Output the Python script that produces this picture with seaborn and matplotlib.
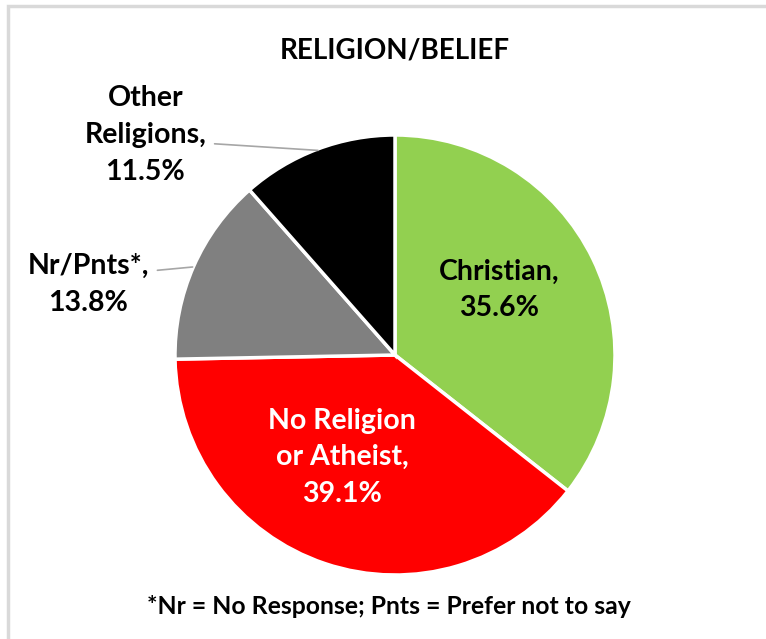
import matplotlib.pyplot as plt
import seaborn as sns
from matplotlib.patches import Rectangle

sns.set_theme(style="white")
plt.rcParams['font.family'] = ['Lato', 'DejaVu Sans']

# data
categories = ['Christian', 'No Religion\nor Atheist', 'Nr/Pnts*', 'Other\nReligions']
shares = [35.6, 39.1, 13.8, 11.5]
colors = ['#92d050', '#ff0000', '#808080', '#000000']
text_colors = ['black', 'white', 'black', 'black']

# label placement (data coords, pie radius = 1)
label_pos = [(0.475, 0.295), (-0.24, -0.465), (-1.395, 0.32), (-1.135, 1.0)]
leader_lines = [None, None, ((-1.08, 0.385), (-0.92, 0.40)), ((-0.82, 0.96), (-0.35, 0.93))]

fig = plt.figure(figsize=(7.66, 6.39), dpi=100)
fig.patch.set_facecolor('white')

# light grey chart frame (left and top visible, rest runs off the image)
fig.patches.append(Rectangle((8 / 766, -0.05), 1.2, 1 - 6 / 639 + 0.05,
                             transform=fig.transFigure, fill=False,
                             edgecolor='#d9d9d9', linewidth=2.5))

ax = fig.add_axes([175 / 766, 64 / 639, 440 / 766, 440 / 639])
wedges, _ = ax.pie(shares, colors=colors, startangle=90, counterclock=False,
                   radius=1, wedgeprops=dict(edgecolor='white', linewidth=2.5))
ax.set_xlim(-1, 1)
ax.set_ylim(-1, 1)
ax.set_aspect('equal')

for cat, val, pos, tc, ll in zip(categories, shares, label_pos, text_colors, leader_lines):
    ax.text(pos[0], pos[1], f'{cat},\n{val:.1f}%', ha='center', va='center',
            fontsize=20.5, fontweight='bold', color=tc, linespacing=1.5,
            clip_on=False)
    if ll is not None:
        ax.plot([ll[0][0], ll[1][0]], [ll[0][1], ll[1][1]], color='#a6a6a6',
                linewidth=1.2, clip_on=False)

fig.text(395 / 766, 1 - 50 / 639, 'RELIGION/BELIEF', ha='center', va='center',
         fontsize=20, fontweight='bold', color='black')
fig.text(389 / 766, 1 - 607 / 639, '*Nr = No Response; Pnts = Prefer not to say',
         ha='center', va='center', fontsize=17.8, fontweight='bold', color='black')

fig.savefig('out.png', dpi=100, facecolor='white')
